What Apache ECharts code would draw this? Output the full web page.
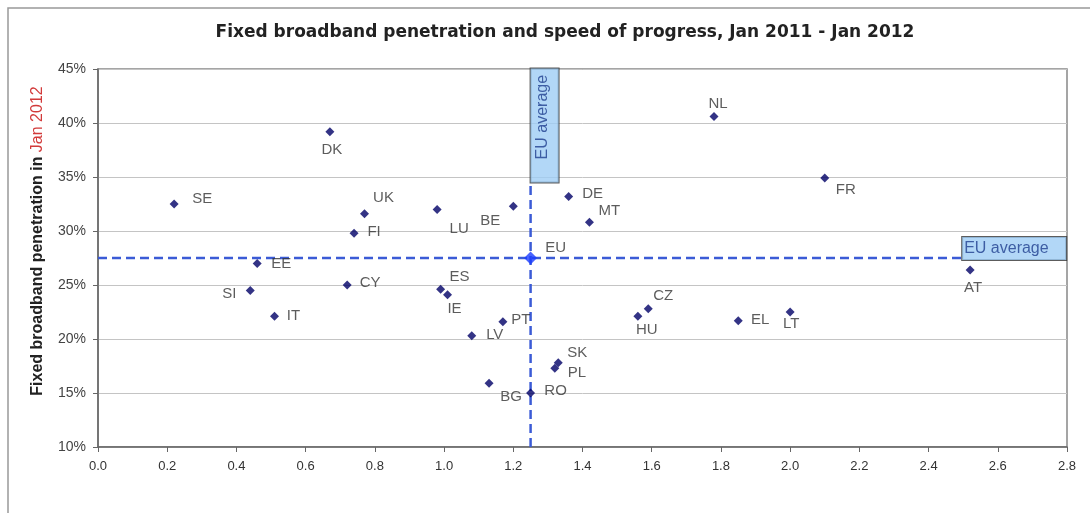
<!DOCTYPE html>
<html>
<head>
<meta charset="utf-8">
<script src="https://cdn.jsdelivr.net/npm/echarts@6/dist/echarts.min.js"></script>
<style>
  html, body { margin: 0; padding: 0; background: #fff; }
  #chart { width: 1090px; height: 513px; }
</style>
</head>
<body>
<div id="chart"></div>
<script>
// ---- Data ----
const countries   = ['SE','DK','UK','FI','LU','BE','DE','MT','NL','FR','AT','EE','SI','IT','CY','ES','IE','PT','LV','BG','RO','SK','PL','HU','CZ','EL','LT'];
const progress    = [0.22,0.67,0.77,0.74,0.98,1.20,1.36,1.42,1.78,2.10,2.52,0.46,0.44,0.51,0.72,0.99,1.01,1.17,1.08,1.13,1.25,1.33,1.32,1.56,1.59,1.85,2.00];
const penetration = [32.5,39.2,31.6,29.8,32.0,32.3,33.2,30.8,40.6,34.9,26.4,27.0,24.5,22.1,25.0,24.6,24.1,21.6,20.3,15.9,15.0,17.8,17.3,22.1,22.8,21.7,22.5];
const euName = 'EU';
const euProgress = 1.25;
const euPenetration = 27.5;
const avgText = 'EU average';
const avgLineXEnd = 2.5;   // horizontal average line stops at the label box
const avgLineYEnd = 34.5;  // vertical average line stops at the label box
const titleText = 'Fixed broadband penetration and speed of progress, Jan 2011 - Jan 2012';
const yNameMain = 'Fixed broadband penetration in ';
const yNameRed = 'Jan 2012';

// ---- Label placement (style, not data) ----
const labelOffset = {
  SE:[28,-5], DK:[2,18], UK:[19,-16], FI:[20,-1], LU:[22,19], BE:[-23,15], DE:[24,-3],
  MT:[20,-12], NL:[4,-13], FR:[21,12], AT:[3,18], EE:[24,0], SI:[-21,3], IT:[19,0],
  CY:[23,-2], ES:[19,-12], IE:[7,14], PT:[18,-2], LV:[23,-1], BG:[22,14], RO:[25,-2],
  SK:[19,-10], PL:[22,5], HU:[9,14], CZ:[15,-13], EL:[22,-1], LT:[1,12]
};

const chart = echarts.init(document.getElementById('chart'));
const lineColor = '#3b5bd6';
const labelFont = { fontFamily: 'Arial, Liberation Sans', fontSize: 15, color: '#333' };

chart.setOption({
  animation: false,
  backgroundColor: '#fff',
  title: {
    text: titleText,
    left: 560, top: 19, textAlign: 'center',
    textStyle: { fontFamily: 'DejaVu Sans', fontSize: 17, fontWeight: 'bold', color: '#222' }
  },
  graphic: [{
    type: 'rect', shape: { x: 8, y: 8, width: 1100, height: 520 },
    style: { fill: 'none', stroke: '#999', lineWidth: 1.5 }, silent: true, z: -1
  }],
  grid: { left: 98, right: 23, top: 69, bottom: 66, show: true, borderColor: '#888', borderWidth: 1.5 },
  xAxis: {
    type: 'value', min: 0, max: 2.8, interval: 0.2,
    axisLine: { show: true, onZero: false, lineStyle: { color: '#666', width: 1.5 } },
    axisTick: { show: true, length: 5, lineStyle: { color: '#666' } },
    axisLabel: { formatter: v => v.toFixed(1), margin: 13, fontFamily: 'Arial, Liberation Sans', fontSize: 13, color: '#333' },
    splitLine: { show: false }
  },
  yAxis: {
    type: 'value', min: 10, max: 45, interval: 5,
    name: '{b|' + yNameMain + '}{r|' + yNameRed + '}',
    nameLocation: 'middle', nameRotate: 90, nameGap: 52,
    nameTextStyle: {
      padding: [0, 0, 0, 34],
      rich: {
        b: { fontFamily: 'Arial, Liberation Sans', fontSize: 16, fontWeight: 'bold', color: '#222' },
        r: { fontFamily: 'Arial, Liberation Sans', fontSize: 16, color: '#d23a3a' }
      }
    },
    axisLine: { show: true, lineStyle: { color: '#666', width: 1.5 } },
    axisTick: { show: true, length: 5, lineStyle: { color: '#666' } },
    axisLabel: { formatter: '{value}%', margin: 12, fontFamily: 'Arial, Liberation Sans', fontSize: 14, color: '#444' },
    splitLine: { show: true, lineStyle: { color: '#c4c4c4', width: 1 } }
  },
  series: [
    {
      type: 'line', data: [[0, euPenetration], [avgLineXEnd, euPenetration]],
      symbol: 'none', silent: true, z: 2,
      lineStyle: { color: lineColor, width: 2.5, type: [9, 5] }
    },
    {
      type: 'line', data: [[euProgress, 10], [euProgress, avgLineYEnd]],
      symbol: 'none', silent: true, z: 2,
      lineStyle: { color: lineColor, width: 2.5, type: [9, 5] }
    },
    {
      type: 'scatter', symbol: 'diamond', symbolSize: 9, z: 5,
      itemStyle: { color: '#000066' },
      label: Object.assign({ show: true, position: 'inside', formatter: '{b}' }, labelFont),
      data: countries.map((c, i) => ({ name: c, value: [progress[i], penetration[i]], label: { offset: labelOffset[c] } }))
    },
    {
      type: 'scatter', symbol: 'diamond', symbolSize: 13, z: 6,
      itemStyle: { color: '#1a3cff' },
      label: Object.assign({ show: true, position: 'inside', formatter: '{b}', offset: [25, -10] }, labelFont),
      data: [{ name: euName, value: [euProgress, euPenetration] }]
    },
    {
      // horizontal "EU average" box
      type: 'scatter', symbolSize: 1, z: 7, silent: true,
      itemStyle: { color: 'transparent' },
      label: {
        show: true, position: 'inside', formatter: avgText, align: 'left', verticalAlign: 'bottom', offset: [-1, 2],
        fontFamily: 'Arial, Liberation Sans', fontSize: 16, color: '#1f3f8f', lineHeight: 17,
        backgroundColor: '#9fcdf5', borderColor: '#333', borderWidth: 1,
        width: 100, padding: [3, 2, 3, 2]
      },
      data: [{ name: avgText, value: [avgLineXEnd, euPenetration] }]
    },
    {
      // vertical "EU average" box
      type: 'scatter', symbolSize: 1, z: 7, silent: true,
      itemStyle: { color: 'transparent' },
      label: {
        show: true, position: 'inside', formatter: avgText, align: 'left', verticalAlign: 'top', rotate: 90, offset: [0, 0],
        fontFamily: 'Arial, Liberation Sans', fontSize: 16, color: '#1f3f8f', lineHeight: 16,
        backgroundColor: '#9fcdf5', borderColor: '#333', borderWidth: 1,
        width: 87, padding: [4, 4, 8, 23]
      },
      data: [{ name: avgText, value: [euProgress, avgLineYEnd] }]
    }
  ]
});
</script>
</body>
</html>
